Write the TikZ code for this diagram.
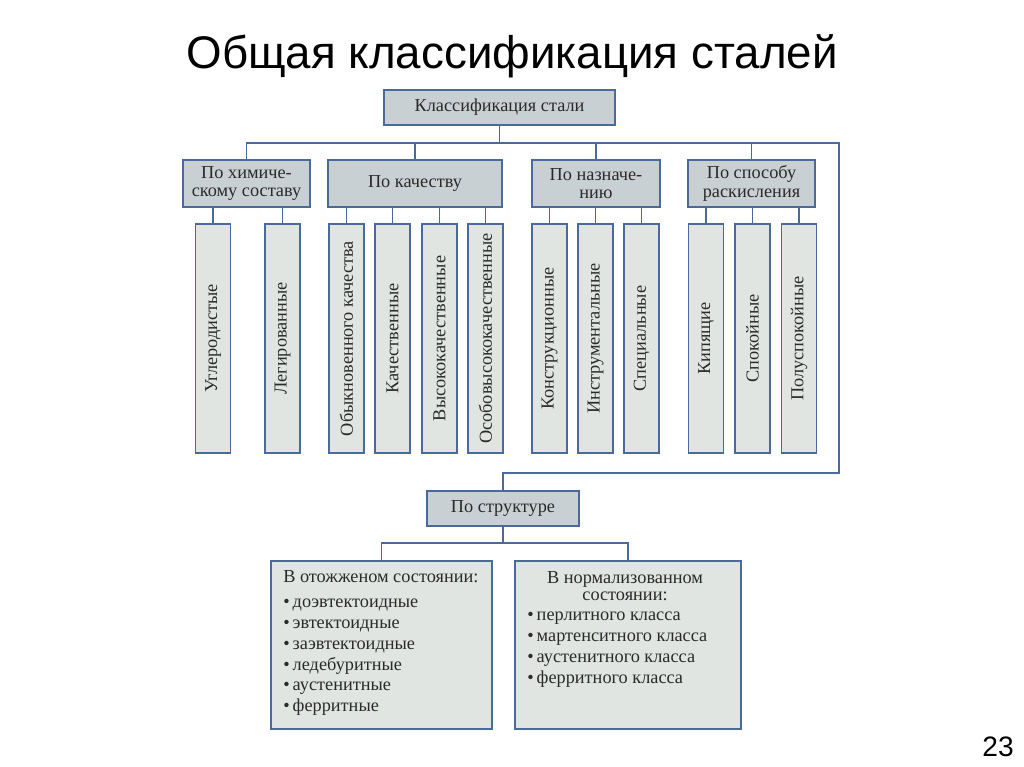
\documentclass[tikz,border=0pt]{standalone}
\usepackage{fontspec}
\setmainfont{Liberation Serif}
\newfontfamily\titlefont{Liberation Sans}
\usepackage{tikz}
\usetikzlibrary{positioning}
\usepackage{xcolor}
\definecolor{lineBlue}{HTML}{4A6A9C}
\definecolor{headFill}{HTML}{C9D0D3}
\definecolor{leafFill}{HTML}{E1E5E2}
\definecolor{textGray}{HTML}{2A2A2A}

\begin{document}
\begin{tikzpicture}[x=0.025cm, y=-0.025cm,
        head/.style={rectangle, draw=lineBlue, fill=headFill, line width=1.1pt, inner sep=0pt, align=center, text=textGray, font=\fontsize{13}{13}\selectfont},
        leaf/.style={rectangle, draw=lineBlue, fill=leafFill, line width=1.1pt, inner sep=0pt, rotate=90, minimum width=5.725cm, minimum height=0.875cm, text=textGray, font=\fontsize{13}{13}\selectfont},
        group/.style={rectangle, draw=lineBlue, fill=leafFill, line width=1.1pt, inner sep=0pt, minimum height=4.2cm},
        item/.style={inner sep=0pt, align=left, text=textGray, font=\fontsize{13}{14.9}\selectfont},
        link/.style={draw=lineBlue, line width=1.1pt}
      ]
      \useasboundingbox[fill=white] (0,0) rectangle (1024,767);
      \node (title) at (512,56) {\titlefont\fontsize{32.5}{34}\selectfont Общая классификация сталей};
      \node (num) at (998,747) {\titlefont\fontsize{20}{22}\selectfont 23};

      \node[head, minimum width=5.775cm, minimum height=0.875cm] (K) at (499.5,107.5) {Классификация стали};
      \node[head, minimum width=3.175cm, minimum height=1.175cm] (P1) at (246.5,183.5) {По химиче-\\скому составу};
      \node[head, minimum width=4.35cm, minimum height=1.175cm] (P2) at (415,183.5) {По качеству};
      \node[head, minimum width=3.2cm, minimum height=1.175cm] (P3) at (596,183.5) {По назначе-\\нию};
      \node[head, minimum width=3.175cm, minimum height=1.175cm] (P4) at (751.5,183.5) {По способу\\раскисления};

      % upper bus
      \coordinate (bus) at (499.5,143);
      \coordinate (e1) at (839,143);
      \coordinate (e2) at (839,473);
      \draw[link] (K.south) -- (bus);
      \foreach \i in {1,...,4} {
         \draw[link] (P\i.north) |- (bus);
      }

      \foreach \x/\t/\p [count=\i] in {213/Углеродистые/1, 282.5/Легированные/1,
            346.5/Обыкновенного качества/2, 392.5/Качественные/2, 439.5/Высококачественные/2, 485.5/Особовысококачественные/2,
            549.5/Конструкционные/3, 595.5/Инструментальные/3, 641.5/Специальные/3,
            706/Кипящие/4, 752.5/Спокойные/4, 799/Полуспокойные/4} {
         \node[leaf] (L\i) at (\x,338.5) {\t};
         \draw[link] (L\i.east) -- (L\i.east |- P\p.south);
      }

      % structure branch
      \node[head, minimum width=3.8cm, minimum height=0.875cm] (S) at (503,508.5) {По структуре};
      \draw[link] (bus) -- (e1) -- (e2) -| (S.north);
      \coordinate (bus2) at (503,543);
      \node[group, minimum width=5.525cm] (B1) at (381.5,645) {};
      \node[group, minimum width=5.65cm] (B2) at (628,645) {};
      \draw[link] (S.south) -- (bus2);
      \draw[link] (B1.north) |- (bus2);
      \draw[link] (B2.north) |- (bus2);

      \node[item, anchor=north west] (T1) at (283,570) {В отожженом состоянии:\\[2.8pt]
            •\,доэвтектоидные\\ •\,эвтектоидные\\ •\,заэвтектоидные\\ •\,ледебуритные\\ •\,аустенитные\\ •\,ферритные};
      \node[item, align=center, anchor=north, font=\fontsize{13}{12}\selectfont] (T2) at (625,571) {В нормализованном\\состоянии:};
      \node[item, anchor=north west] (T3) at (527,612) {•\,перлитного класса\\ •\,мартенситного класса\\ •\,аустенитного класса\\ •\,ферритного класса};
    \end{tikzpicture}
\end{document}
